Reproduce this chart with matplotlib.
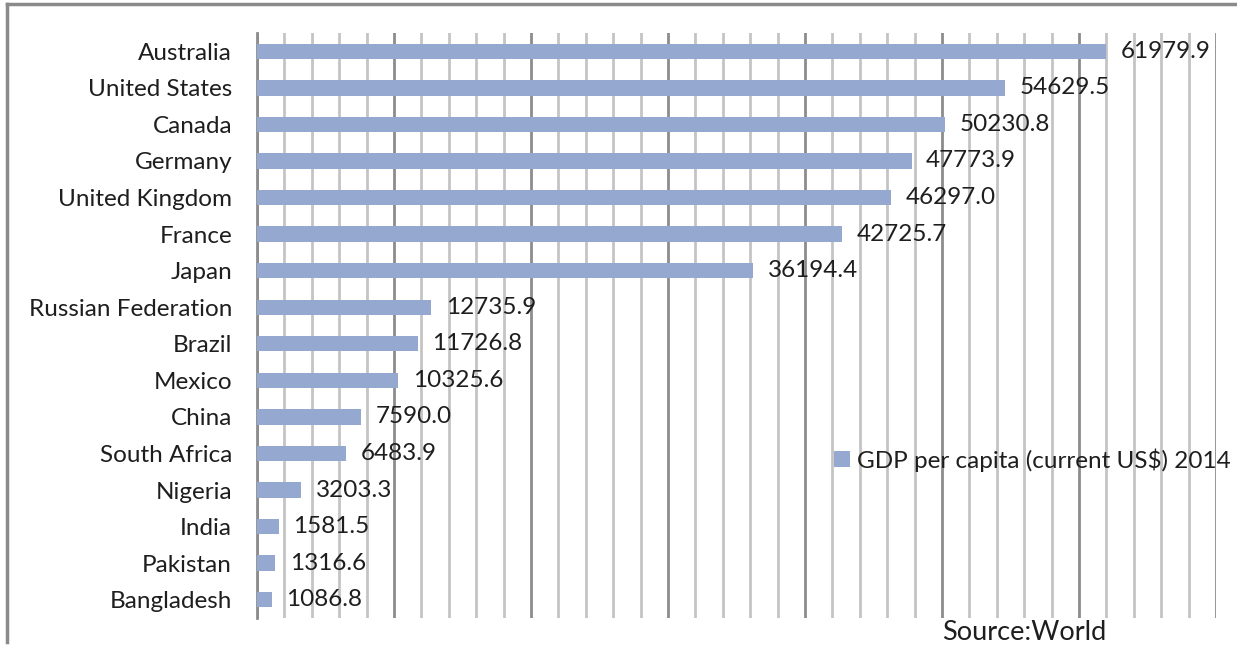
import matplotlib
matplotlib.use("Agg")
import matplotlib.pyplot as plt
from matplotlib.lines import Line2D
from matplotlib.ticker import MultipleLocator

countries = ["Australia", "United States", "Canada", "Germany", "United Kingdom",
             "France", "Japan", "Russian Federation", "Brazil", "Mexico", "China",
             "South Africa", "Nigeria", "India", "Pakistan", "Bangladesh"]
gdp_per_capita = [61979.9, 54629.5, 50230.8, 47773.9, 46297.0, 42725.7, 36194.4,
                  12735.9, 11726.8, 10325.6, 7590.0, 6483.9, 3203.3, 1581.5,
                  1316.6, 1086.8]
series_name = "GDP per capita (current US$) 2014"
source_text = "Source:World"

W, H = 1237, 645
plt.rcParams["font.family"] = ["Lato", "DejaVu Sans"]
fig = plt.figure(figsize=(W / 100, H / 100), dpi=100)
ax = fig.add_axes([257 / W, 1 - 618 / H, (1216 - 257) / W, (618 - 33) / H])

bar_color = "#94A8D0"
text_color = "#1e1e1e"

y = list(range(len(countries)))
bars = ax.barh(y, gdp_per_capita, height=0.42, color=bar_color, zorder=3,
               label=series_name)

for yi, v in zip(y, gdp_per_capita):
    ax.annotate(f"{v:.1f}", xy=(v, yi), xytext=(10.5, 0), textcoords="offset points",
                ha="left", va="center", fontsize=17.5, color=text_color, zorder=4)

ax.set_xlim(0, 70000)
ax.set_ylim(len(countries) - 0.5, -0.5)
ax.set_yticks(y)
ax.set_yticklabels(countries, fontsize=17.5, color=text_color)
ax.tick_params(axis="y", length=0, pad=18)
ax.tick_params(axis="x", which="both", length=0, labelbottom=False)

ax.xaxis.set_major_locator(MultipleLocator(10000))
ax.xaxis.set_minor_locator(MultipleLocator(2000))
ax.grid(True, axis="x", which="minor", color="#c4c4c4", linewidth=2.0, zorder=1)
ax.grid(True, axis="x", which="major", color="#8c8c8c", linewidth=2.0, zorder=2)
ax.set_axisbelow(True)

for side in ["top", "right", "bottom"]:
    ax.spines[side].set_visible(False)
ax.spines["left"].set_color("#8c8c8c")
ax.spines["left"].set_linewidth(2.0)

leg = fig.legend(handles=[bars], labels=[series_name], loc="center left",
                 bbox_to_anchor=(812 / W, 1 - 460 / H), frameon=False,
                 fontsize=17.5, handlelength=0.65, handleheight=0.65,
                 handletextpad=0.3, labelcolor=text_color)

fig.text(1106 / W, 1 - 632 / H, source_text, ha="right", va="center",
         fontsize=19.5, color=text_color)

# outer frame (top and left edges)
fig.add_artist(Line2D([6.5 / W, 1.0], [1 - 3.5 / H, 1 - 3.5 / H],
                      transform=fig.transFigure, color="#8a8a8a", linewidth=2.5))
fig.add_artist(Line2D([6.5 / W, 6.5 / W], [1 - 3.5 / H, 1 - 642 / H],
                      transform=fig.transFigure, color="#8a8a8a", linewidth=2.5))

fig.savefig("out.png", dpi=100, facecolor="white")
